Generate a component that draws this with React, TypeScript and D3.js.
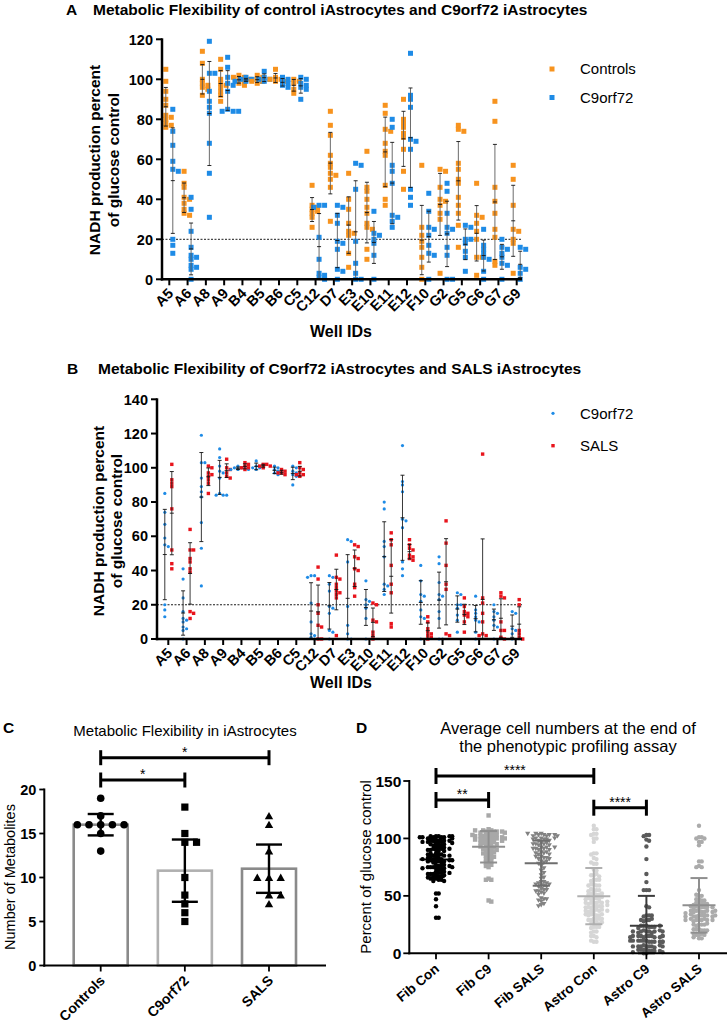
import React from "react";
import * as d3 from "d3";

const FONT = "'Liberation Sans', Arial, Helvetica, sans-serif";
const ORANGE = "#F7931E";
const BLUE = "#1E8BE6";
const RED = "#E8141C";

// ---------- Panels A & B ----------
const wells = ["A5","A6","A8","A9","B4","B5","B6","C5","C12","D7","E3","E10","E11","E12","F10","G2","G5","G6","G7","G9"];

const controlsA: number[][] = [
  [105,99,94,90,87,82,81,80,78,77,76],
  [54,48,46,41,40,38,35,33,32],
  [114,108,100,98,97,96,95,92],
  [110,105,100,98,97,96,94,92,89],
  [102,101,101,100,100,99,98,97],
  [102,101,100,99,99,98],
  [105,101,100,100,99,99],
  [100,99,98,95,93],
  [47,37,36,35,34,33,31,26],
  [84,77,72,62,58,56,53,52,50,46,29],
  [53,40,35,28,24,23,22,13,6],
  [64,46,44,40,36,33,28,26,25,15,10],
  [87,83,75,74,68,64,62,47,40,37],
  [90,80,78,76,73,71,65,54,45],
  [57,26,22,19,16,11,6,0],
  [55,54,46,40,39,37,33,30,3],
  [77,75,74,58,55,50,48,41,37,33,27,16],
  [48,32,31,28,24,20,11,11,2],
  [89,79,46,39,33,25,21,9,7],
  [57,50,37,25,24,20,18,3],
];

const c9orf72: number[][] = [
  [85,74,67,59,55,54,20,17,13],
  [41,35,24,16,12,11,10,7,5,6,0],
  [119,103,103,94,89,86,83,68,53,31],
  [111,106,101,98,97,94,85,84,84,84],
  [101,100,100,100,99,99,99],
  [104,101,100,100,99],
  [101,100,99,98,97,96],
  [101,100,98,97,96,95,90],
  [37,37,36,21,10,3,2,1,0],
  [37,36,32,28,19,18,15,5,4,0],
  [58,57,45,19,8,3,0,0],
  [34,23,22,20,18,12,0],
  [80,76,57,54,48,32,31,29,26],
  [113,92,90,86,70,69,65,45,41,37],
  [43,34,26,25,22,17,13,12,0],
  [48,44,33,26,25,23,16,12,0,0],
  [27,26,20,20,18,14,11,4],
  [25,17,15,13,11,10,4,0],
  [20,16,15,13,11,8,7,0],
  [16,15,6,5,3,0],
];

const salsB: number[][] = [
  [102,93,91,89,76,52,44,41],
  [64,52,52,47,45,41,39,16,15,12],
  [101,100,97,96,95,93,91,85],
  [105,100,99,97,95,94],
  [103,102,101,100,100,99],
  [102,102,101,101,100],
  [99,98,97,96,97],
  [103,100,99,97,96,96,95],
  [42,35,20,15,8,7,0,0],
  [49,36,35,32,30,28,27,26,24,2],
  [55,54,48,47,41,40,32,30,25],
  [21,20,11,10,4,2,0],
  [62,58,55,43,32,27,9,7],
  [58,55,53,52,49,48,47,46],
  [13,10,6,4,3,2,1,0],
  [69,56,43,32,29,3,2],
  [24,19,16,15,14,13,10,4],
  [108,24,21,15,10,3,2,2],
  [27,25,24,10,5,5,1,0],
  [23,20,5,3,1,0],
];

const yTicksA = [0,20,40,60,80,100,120];
const yTicksB = [0,20,40,60,80,100,120,140];
const threshold = 20;

// ---------- Panel C ----------
const groupsC = ["Controls","C9orf72","SALS"];
const controlsC = [19,17,16,16,16,16,16,15,13];
const c9C = [18,15,14,14,10,8,7,6,5];
const salsC = [17,16,13,10,10,10,8,8,7];
const yTicksC = [0,5,10,15,20];
const T_CRIT = 2.306; // 95% CI, df = 8

// ---------- Panel D ----------
const groupsD = ["Fib Con","Fib C9","Fib SALS","Astro Con","Astro C9","Astro SALS"];
const fibCon = [102,102,101,101,102,101,100,102,101,100,101,102,
  99,98,98,97,99,98,97,98,99,97,
  96,95,94,95,96,94,93,95,
  92,91,90,89,91,90,92,89,90,91,
  87,86,85,84,86,87,85,84,86,85,
  83,82,81,80,79,82,81,80,83,79,81,80,82,81,
  77,76,75,74,73,76,75,74,77,73,75,76,74,75,
  71,70,69,68,67,70,69,68,71,67,69,70,
  66,65,64,63,65,64,66,63,
  52,52,47,41,31,31];
const fibC9 = [120,
  108,107,106,106,105,107,106,105,104,106,107,105,
  103,102,103,102,101,103,102,101,102,103,
  100,99,100,99,98,100,99,98,100,99,
  97,96,95,97,96,95,96,94,
  93,92,91,90,92,91,93,90,
  89,88,87,86,88,87,
  85,84,83,82,84,
  81,80,79,78,
  77,76,75,
  65,64,64,46,45];
const fibSals = [104,103,103,102,104,103,102,103,104,102,
  100,99,98,99,100,98,99,100,
  96,95,94,96,95,94,95,
  92,91,90,92,91,90,91,92,
  88,87,86,88,87,86,
  84,83,82,83,84,82,
  80,79,78,80,
  76,74,72,70,68,66,65,
  62,62,61,61,60,60,59,59,58,58,
  56,55,54,55,53,52,54,51,
  48,47,46,45,47,
  43,42,41];
const astroCon = [111,108,108,104,104,103,100,100,97,87,87,86,83,82,78,78,79,73,72,
  68,69,68,67,64,64,63,64,60,59,60,59,59,55,55,56,55,54,52,51,52,51,52,51,
  48,48,47,48,49,48,47,44,44,45,44,43,44,45,44,41,41,40,41,40,41,42,40,
  37,38,37,37,36,38,37,37,34,33,34,33,34,33,34,30,30,29,30,29,30,
  26,27,26,26,27,23,23,22,23,19,19,18,15,14,15,10,10,11];
const astroC9 = [103,103,102,99,98,93,82,69,62,55,55,55,41,40,33,33,32,33,
  29,29,30,28,29,24,23,24,23,24,23,22,24,19,19,20,18,19,19,20,18,19,19,
  15,15,14,15,15,14,15,14,15,15,14,15,11,10,11,10,11,10,11,10,11,10,11,10,
  6,6,7,6,6,5,6,7,6,6,3,2,3,2,3,2,3,2,0,1,0,1];
const astroSals = [111,101,101,100,100,97,97,94,80,80,76,75,75,55,50,50,51,
  47,46,47,46,43,43,44,43,42,43,40,40,41,40,40,41,40,39,
  37,36,37,36,37,36,37,36,35,37,33,33,32,33,32,33,34,32,33,32,
  29,29,30,29,28,29,30,29,29,25,25,24,25,26,25,21,20,21,20,21,20,
  16,17,16,16,17,13,13,14];
const yTicksD = [0,50,100,150];

type Pt = { x: number; y: number };

function swarm(vals: number[], y: (v: number) => number, size: number, step: number, maxOff = 1e9): Pt[] {
  const placed: Pt[] = [];
  return vals.map((v) => {
    const yy = y(v);
    for (let k = 0; k < 80; k++) {
      const off = k === 0 ? 0 : (k % 2 === 1 ? 1 : -1) * Math.ceil(k / 2) * step;
      if (Math.abs(off) > maxOff) break;
      if (!placed.some((p) => Math.abs(p.x - off) < size && Math.abs(p.y - yy) < size)) {
        const p = { x: off, y: yy };
        placed.push(p);
        return p;
      }
    }
    const n = placed.filter((p) => Math.abs(p.y - yy) < size).length;
    const off = ((n % 2 === 1 ? 1 : -1) * (Math.ceil(n / 2) * step)) % maxOff;
    const p = { x: off, y: yy };
    placed.push(p);
    return p;
  });
}

function stats(vals: number[]) {
  const m = d3.mean(vals) as number;
  const sd = (d3.deviation(vals) as number) || 0;
  return { m, sd };
}

function ErrBar(props: { x: number; top: number; mid: number; bot: number; cap: number; midW: number; stroke: string; capStroke?: string; sw: number }) {
  const { x, top, mid, bot, cap, midW, stroke, sw } = props;
  const cs = props.capStroke || stroke;
  return (
    <g>
      <line x1={x} x2={x} y1={top} y2={bot} stroke={stroke} strokeWidth={sw} />
      <line x1={x - cap / 2} x2={x + cap / 2} y1={top} y2={top} stroke={cs} strokeWidth={sw} />
      <line x1={x - cap / 2} x2={x + cap / 2} y1={bot} y2={bot} stroke={cs} strokeWidth={sw} />
      {midW > 0 && <line x1={x - midW / 2} x2={x + midW / 2} y1={mid} y2={mid} stroke={cs} strokeWidth={sw} />}
    </g>
  );
}

function WellPanel(props: {
  axisX: number; x0: number; x1: number; y0: number; y1: number; ymax: number; ticks: number[];
  letter: string; title: string; titleX: number; letterX: number; titleY: number;
  labelX1: number; labelX2: number; labelCY: number; wellsY: number;
  left: number[][]; right: number[][]; leftColor: string; rightColor: string;
  leftName: string; rightName: string; variant: "A" | "B"; legendY: number[];
}) {
  const p = props;
  const x = d3.scalePoint<string>().domain(wells).range([p.x0, p.x1]);
  const y = d3.scaleLinear().domain([0, p.ymax]).range([p.y0, p.y1]);
  const axisRight = 522;
  const isA = p.variant === "A";
  const size = isA ? 5 : 3.2;
  return (
    <g>
      <text x={p.letterX} y={p.titleY} fontSize={15.5} fontWeight="bold" fontFamily={FONT}>{p.letter}</text>
      <text x={p.titleX} y={p.titleY} fontSize={15.5} fontWeight="bold" fontFamily={FONT}>{p.title}</text>
      <text transform={`translate(${p.labelX1},${p.labelCY}) rotate(-90)`} textAnchor="middle" fontSize={15.5} fontWeight="bold" fontFamily={FONT}>NADH production percent</text>
      <text transform={`translate(${p.labelX2},${p.labelCY}) rotate(-90)`} textAnchor="middle" fontSize={15.5} fontWeight="bold" fontFamily={FONT}>of glucose control</text>
      <line x1={p.axisX} x2={axisRight} y1={y(threshold)} y2={y(threshold)} stroke="#000" strokeWidth={0.9} strokeDasharray="2,1.5" />
      {wells.map((w, i) => {
        const cxL = (x(w) as number) - 3.5;
        const cxR = (x(w) as number) + 3.5;
        const sL = swarm(p.left[i], y, size * 0.75, size * 0.55);
        const sR = swarm(p.right[i], y, size * 0.75, size * 0.55);
        return (
          <g key={w}>
            {sL.map((pt, j) =>
              isA ? (
                <rect key={"l" + j} x={cxL + pt.x - size / 2} y={pt.y - size / 2} width={size} height={size} fill={p.leftColor} />
              ) : (
                <circle key={"l" + j} cx={cxL + pt.x} cy={pt.y} r={1.6} fill={p.leftColor} />
              )
            )}
            {sR.map((pt, j) =>
              isA ? (
                <rect key={"r" + j} x={cxR + pt.x - size / 2} y={pt.y - size / 2} width={size} height={size} fill={p.rightColor} />
              ) : (
                <rect key={"r" + j} x={cxR + pt.x - 1.7} y={pt.y - 1.7} width={3.4} height={3.4} fill={p.rightColor} />
              )
            )}
          </g>
        );
      })}
      {wells.map((w, i) => {
        const groups = [
          { vals: p.left[i], cx: (x(w) as number) - 3.5 },
          { vals: p.right[i], cx: (x(w) as number) + 3.5 },
        ];
        return (
          <g key={"e" + w}>
            {groups.map((g, k) => {
              const s = stats(g.vals);
              return (
                <ErrBar key={k} x={g.cx} top={y(Math.min(s.m + s.sd, p.ymax))} mid={y(s.m)} bot={y(Math.max(s.m - s.sd, 0))}
                  cap={4} midW={4} stroke={isA ? "#5a5a5a" : "#222"} capStroke="#111" sw={0.9} />
              );
            })}
          </g>
        );
      })}
      <line x1={p.axisX} x2={p.axisX} y1={p.y1 - 1} y2={p.y0 + 1.2} stroke="#000" strokeWidth={2.5} />
      <line x1={p.axisX - 1.2} x2={axisRight} y1={p.y0} y2={p.y0} stroke="#000" strokeWidth={2.5} />
      {p.ticks.map((t) => (
        <g key={t}>
          <line x1={p.axisX - 6} x2={p.axisX} y1={y(t)} y2={y(t)} stroke="#000" strokeWidth={2} />
          <text x={p.axisX - 9} y={y(t)} dy="0.36em" textAnchor="end" fontSize={14.5} fontWeight="bold" fontFamily={FONT}>{t}</text>
        </g>
      ))}
      {wells.map((w) => (
        <g key={"t" + w}>
          <line x1={x(w)} x2={x(w)} y1={p.y0} y2={p.y0 + 6} stroke="#000" strokeWidth={2} />
          <text transform={`translate(${(x(w) as number) + 5},${p.y0 + 15}) rotate(-45)`} textAnchor="end" fontSize={14.5} fontWeight="bold" fontFamily={FONT}>{w}</text>
        </g>
      ))}
      <text x={341} y={p.wellsY} textAnchor="middle" fontSize={16} fontWeight="bold" fontFamily={FONT}>Well IDs</text>
      {isA ? (
        <g>
          <rect x={552 - 2.5} y={p.legendY[0] - 2.5} width={5} height={5} fill={p.leftColor} />
          <rect x={552 - 2.5} y={p.legendY[1] - 2.5} width={5} height={5} fill={p.rightColor} />
        </g>
      ) : (
        <g>
          <circle cx={553} cy={p.legendY[0]} r={1.6} fill={p.leftColor} />
          <rect x={553 - 1.7} y={p.legendY[1] - 1.7} width={3.4} height={3.4} fill={p.rightColor} />
        </g>
      )}
      <text x={580} y={p.legendY[0]} dy="0.36em" fontSize={15} fontFamily={FONT}>{p.leftName}</text>
      <text x={580} y={p.legendY[1]} dy="0.36em" fontSize={15} fontFamily={FONT}>{p.rightName}</text>
    </g>
  );
}

function Bracket(props: { x1: number; x2: number; y: number; h: number; label: string; sw: number }) {
  const { x1, x2, y, h, label, sw } = props;
  return (
    <g>
      <line x1={x1} x2={x2} y1={y} y2={y} stroke="#000" strokeWidth={sw} />
      <line x1={x1} x2={x1} y1={y - h / 2} y2={y + h / 2} stroke="#000" strokeWidth={sw} />
      <line x1={x2} x2={x2} y1={y - h / 2} y2={y + h / 2} stroke="#000" strokeWidth={sw} />
      <text x={(x1 + x2) / 2} y={y - 1} textAnchor="middle" fontSize={14} fontFamily={FONT}>{label}</text>
    </g>
  );
}

function PanelC() {
  const x = d3.scalePoint<string>().domain(groupsC).range([100.7, 269]);
  const y = d3.scaleLinear().domain([0, 20]).range([965.5, 789.5]);
  const data = [controlsC, c9C, salsC];
  const strokes = ["#8a8a8a", "#b0b0b0", "#8a8a8a"];
  const axisX = 44.3;
  const bw = 54;
  return (
    <g>
      <text x={3} y={733} fontSize={15.5} fontWeight="bold" fontFamily={FONT}>C</text>
      <text x={185} y={736} textAnchor="middle" fontSize={15} fontFamily={FONT}>Metabolic Flexibility in iAstrocytes</text>
      <text transform={`translate(15,877) rotate(-90)`} textAnchor="middle" fontSize={14.5} fontFamily={FONT}>Number of Metabolites</text>
      {data.map((vals, i) => {
        const cx = x(groupsC[i]) as number;
        const m = d3.mean(vals) as number;
        return (
          <rect key={i} x={cx - bw / 2} y={y(m)} width={bw} height={y(0) - y(m)} fill="#fff" stroke={strokes[i]} strokeWidth={2.6} />
        );
      })}
      {data.map((vals, i) => {
        const cx = x(groupsC[i]) as number;
        const pts = swarm(vals, y, 8.5, 5.85);
        return (
          <g key={"p" + i}>
            {pts.map((pt, j) => {
              const px = cx + pt.x;
              if (i === 0) return <circle key={j} cx={px} cy={pt.y} r={3.8} fill="#000" />;
              if (i === 1) return <rect key={j} x={px - 3.6} y={pt.y - 3.6} width={7.2} height={7.2} fill="#000" />;
              return <path key={j} d={`M${px - 4.2},${pt.y + 3.4} L${px + 4.2},${pt.y + 3.4} L${px},${pt.y - 4} Z`} fill="#000" />;
            })}
          </g>
        );
      })}
      {data.map((vals, i) => {
        const cx = x(groupsC[i]) as number;
        const s = stats(vals);
        const half = (T_CRIT * s.sd) / Math.sqrt(vals.length);
        return <ErrBar key={"e" + i} x={cx} top={y(s.m + half)} mid={y(s.m)} bot={y(s.m - half)} cap={26} midW={0} stroke="#000" sw={2.4} />;
      })}
      <line x1={axisX} x2={axisX} y1={y(20) - 1} y2={y(0) + 1.2} stroke="#000" strokeWidth={2} />
      <line x1={axisX - 1} x2={326} y1={y(0)} y2={y(0)} stroke="#000" strokeWidth={2} />
      {yTicksC.map((t) => (
        <g key={t}>
          <line x1={axisX - 5} x2={axisX} y1={y(t)} y2={y(t)} stroke="#000" strokeWidth={1.8} />
          <text x={axisX - 8} y={y(t)} dy="0.36em" textAnchor="end" fontSize={14.5} fontWeight="bold" fontFamily={FONT}>{t}</text>
        </g>
      ))}
      {groupsC.map((g) => (
        <g key={g}>
          <line x1={x(g)} x2={x(g)} y1={y(0)} y2={y(0) + 6} stroke="#000" strokeWidth={1.8} />
          <text transform={`translate(${(x(g) as number) + 5},${y(0) + 16}) rotate(-45)`} textAnchor="end" fontSize={14} fontWeight="bold" fontFamily={FONT}>{g}</text>
        </g>
      ))}
      <Bracket x1={x("Controls") as number} x2={x("SALS") as number} y={757.7} h={15} label="*" sw={3} />
      <Bracket x1={x("Controls") as number} x2={x("C9orf72") as number} y={780} h={15} label="*" sw={3} />
    </g>
  );
}

function PanelD() {
  const x = d3.scalePoint<string>().domain(groupsD).range([436, 699]);
  const y = d3.scaleLinear().domain([0, 150]).range([953.3, 781]);
  const data = [fibCon, fibC9, fibSals, astroCon, astroC9, astroSals];
  const fills = ["#000000", "#a8a8a8", "#828282", "#d6d6d6", "#5a5a5a", "#ababab"];
  const ebColors = ["#000000", "#8f8f8f", "#6e6e6e", "#b0b0b0", "#3c3c3c", "#8f8f8f"];
  const axisX = 409.3;
  return (
    <g>
      <text x={356} y={733} fontSize={15.5} fontWeight="bold" fontFamily={FONT}>D</text>
      <text x={568} y={733.5} textAnchor="middle" fontSize={16.5} fontFamily={FONT}>Average cell numbers at the end of</text>
      <text x={568} y={752} textAnchor="middle" fontSize={16.5} fontFamily={FONT}>the phenotypic profiling assay</text>
      <text transform={`translate(371,867) rotate(-90)`} textAnchor="middle" fontSize={15} fontFamily={FONT}>Percent of glucose control</text>
      {data.map((vals, i) => {
        const cx = x(groupsD[i]) as number;
        const pts = swarm(vals, y, 2.7, 2.7, 17);
        return (
          <g key={"p" + i}>
            {pts.map((pt, j) => {
              const px = cx + pt.x;
              if (i === 1) return <rect key={j} x={px - 2.2} y={pt.y - 2.2} width={4.4} height={4.4} fill={fills[i]} />;
              if (i === 2) return <path key={j} d={`M${px - 2.6},${pt.y - 2} L${px + 2.6},${pt.y - 2} L${px},${pt.y + 2.4} Z`} fill={fills[i]} />;
              return <circle key={j} cx={px} cy={pt.y} r={2.2} fill={fills[i]} />;
            })}
          </g>
        );
      })}
      {data.map((vals, i) => {
        const cx = x(groupsD[i]) as number;
        const s = stats(vals);
        return <ErrBar key={"e" + i} x={cx} top={y(s.m + s.sd)} mid={y(s.m)} bot={y(Math.max(s.m - s.sd, 0))} cap={17} midW={33} stroke={ebColors[i]} sw={2} />;
      })}
      <line x1={axisX} x2={axisX} y1={y(150) - 1} y2={y(0) + 1} stroke="#000" strokeWidth={2} />
      <line x1={axisX - 1} x2={727} y1={y(0)} y2={y(0)} stroke="#000" strokeWidth={2} />
      {yTicksD.map((t) => (
        <g key={t}>
          <line x1={axisX - 6} x2={axisX} y1={y(t)} y2={y(t)} stroke="#000" strokeWidth={1.8} />
          <text x={axisX - 8} y={y(t)} dy="0.36em" textAnchor="end" fontSize={15.5} fontWeight="bold" fontFamily={FONT}>{t}</text>
        </g>
      ))}
      {groupsD.map((g) => (
        <g key={g}>
          <line x1={x(g)} x2={x(g)} y1={y(0)} y2={y(0) + 6} stroke="#000" strokeWidth={1.8} />
          <text transform={`translate(${(x(g) as number) + 4},${y(0) + 17}) rotate(-40)`} textAnchor="end" fontSize={13.5} fontWeight="bold" fontFamily={FONT}>{g}</text>
        </g>
      ))}
      <Bracket x1={x("Fib Con") as number} x2={x("Astro Con") as number} y={776} h={16} label="****" sw={3} />
      <Bracket x1={x("Fib Con") as number} x2={x("Fib C9") as number} y={800} h={16} label="**" sw={3} />
      <Bracket x1={x("Astro Con") as number} x2={x("Astro C9") as number} y={807.7} h={16} label="****" sw={3} />
    </g>
  );
}

export default function App() {
  return (
    <div style={{ position: "absolute", left: 0, top: 0 }}>
      <svg width={728} height={1023} viewBox="0 0 728 1023" style={{ display: "block", background: "#fff" }}>
        <rect width={728} height={1023} fill="#fff" />
        <WellPanel axisX={162} x0={169.3} x1={516.7} y0={279.3} y1={39.3} ymax={120} ticks={yTicksA}
          letter="A" title="Metabolic Flexibility of control iAstrocytes and C9orf72 iAstrocytes" titleX={93} letterX={66} titleY={14.5}
          labelX1={100} labelX2={118.5} labelCY={160} wellsY={336.5}
          left={controlsA} right={c9orf72} leftColor={ORANGE} rightColor={BLUE} leftName="Controls" rightName="C9orf72"
          variant="A" legendY={[69, 97.5]} />
        <WellPanel axisX={157} x0={168.3} x1={515.7} y0={639} y1={399.3} ymax={140} ticks={yTicksB}
          letter="B" title="Metabolic Flexibility of C9orf72 iAstrocytes and SALS iAstrocytes" titleX={98} letterX={67} titleY={373.5}
          labelX1={104} labelX2={122} labelCY={521} wellsY={688}
          left={c9orf72} right={salsB} leftColor={BLUE} rightColor={RED} leftName="C9orf72" rightName="SALS"
          variant="B" legendY={[413.3, 445.7]} />
        <PanelC />
        <PanelD />
      </svg>
    </div>
  );
}
